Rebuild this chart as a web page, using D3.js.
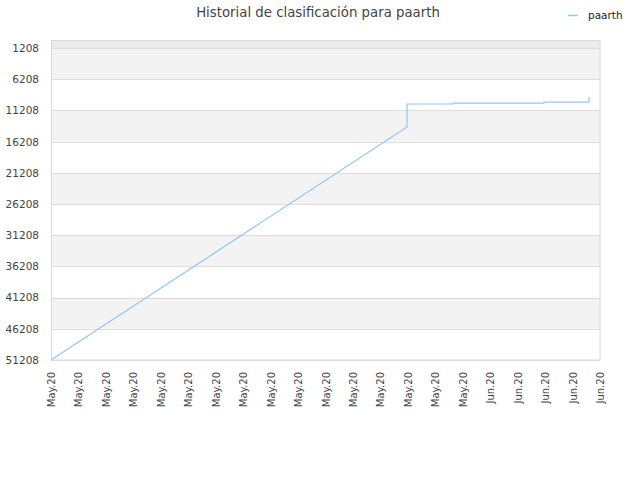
<!DOCTYPE html>
<html>
<head>
<meta charset="utf-8">
<script src="https://cdn.jsdelivr.net/npm/d3@7"></script>
<style>
  body { margin: 0; background: #fff; }
  text { font-family: "DejaVu Sans", sans-serif; }
</style>
</head>
<body>
<svg id="chart" width="640" height="480"></svg>
<script>
// ---- data ----
const title = "Historial de clasificación para paarth";
const seriesName = "paarth";
const xTickLabels = ["May.20","May.20","May.20","May.20","May.20","May.20","May.20","May.20","May.20","May.20","May.20","May.20","May.20","May.20","May.20","May.20","Jun.20","Jun.20","Jun.20","Jun.20","Jun.20"];
const yTickValues = [1208, 6208, 11208, 16208, 21208, 26208, 31208, 36208, 41208, 46208, 51208];
// position along the date axis (in tick units) and rank
const pointX    = [0,     12.97, 12.97, 14.64, 14.64, 17.96, 17.96, 19.6, 19.6];
const pointRank = [51208, 13864, 10177, 10177, 10030, 10030, 9870,  9870, 9055];

(function () {
// ---- layout ----
const svg = d3.select("#chart");
const pL = 51, pR = 600, pT = 40.5, pB = 360;

const x = d3.scaleLinear().domain([0, xTickLabels.length - 1]).range([pL, pR]);
const y = d3.scaleLinear().domain([0, 51208]).range([pT, pB]);

// background bands
const bandEdges = [0].concat(yTickValues);
for (let i = 0; i < bandEdges.length - 1; i++) {
  const fill = i === 0 ? "#ebebeb" : (i % 2 === 1 ? "#f3f3f3" : "#ffffff");
  svg.append("rect")
    .attr("x", pL).attr("width", pR - pL)
    .attr("y", y(bandEdges[i])).attr("height", y(bandEdges[i + 1]) - y(bandEdges[i]))
    .attr("fill", fill);
}

// gridlines
svg.append("g").selectAll("line").data(yTickValues).join("line")
  .attr("x1", pL).attr("x2", pR)
  .attr("y1", d => Math.round(y(d)) + 0.5).attr("y2", d => Math.round(y(d)) + 0.5)
  .attr("stroke", "#dddddd").attr("stroke-width", 1);

// frame
svg.append("rect")
  .attr("x", pL + 0.5).attr("y", pT).attr("width", pR - pL - 0.5).attr("height", pB - pT)
  .attr("fill", "none").attr("stroke", "#d8d8d8").attr("stroke-width", 1);

// y axis
const yAxis = d3.axisLeft(y).tickValues(yTickValues).tickSize(0).tickPadding(12).tickFormat(d3.format("d"));
const gy = svg.append("g").attr("transform", `translate(${pL},0)`).call(yAxis);
gy.select(".domain").remove();
gy.selectAll("text").attr("font-size", "10.5px").attr("fill", "#444").attr("font-family", "DejaVu Sans, sans-serif");

// x axis
const xAxis = d3.axisBottom(x).tickValues(d3.range(xTickLabels.length)).tickSize(0).tickFormat(i => xTickLabels[i]);
const gx = svg.append("g").attr("transform", `translate(0,${pB})`).call(xAxis);
gx.select(".domain").remove();
gx.selectAll("text")
  .attr("font-size", "10px").attr("fill", "#444").attr("font-family", "DejaVu Sans, sans-serif")
  .attr("text-anchor", "end")
  .attr("transform", "rotate(-90)")
  .attr("x", -12).attr("y", 0).attr("dy", "0.35em");

// line
const pts = pointX.map((v, i) => [v, pointRank[i]]);
svg.append("path")
  .datum(pts)
  .attr("fill", "none")
  .attr("stroke", "#92c5f7")
  .attr("stroke-width", 1.2)
  .attr("d", d3.line().x(d => x(d[0])).y(d => y(d[1])));

// title
svg.append("text")
  .attr("x", 318).attr("y", 17)
  .attr("text-anchor", "middle")
  .attr("font-size", "13.3px").attr("fill", "#444")
  .text(title);

// legend
svg.append("line").attr("x1", 568).attr("x2", 578).attr("y1", 15.5).attr("y2", 15.5)
  .attr("stroke", "#92c5f7").attr("stroke-width", 1.5);
svg.append("text").attr("x", 588).attr("y", 18.5)
  .attr("font-size", "10.5px").attr("fill", "#222").text(seriesName);
})();
</script>
</body>
</html>
